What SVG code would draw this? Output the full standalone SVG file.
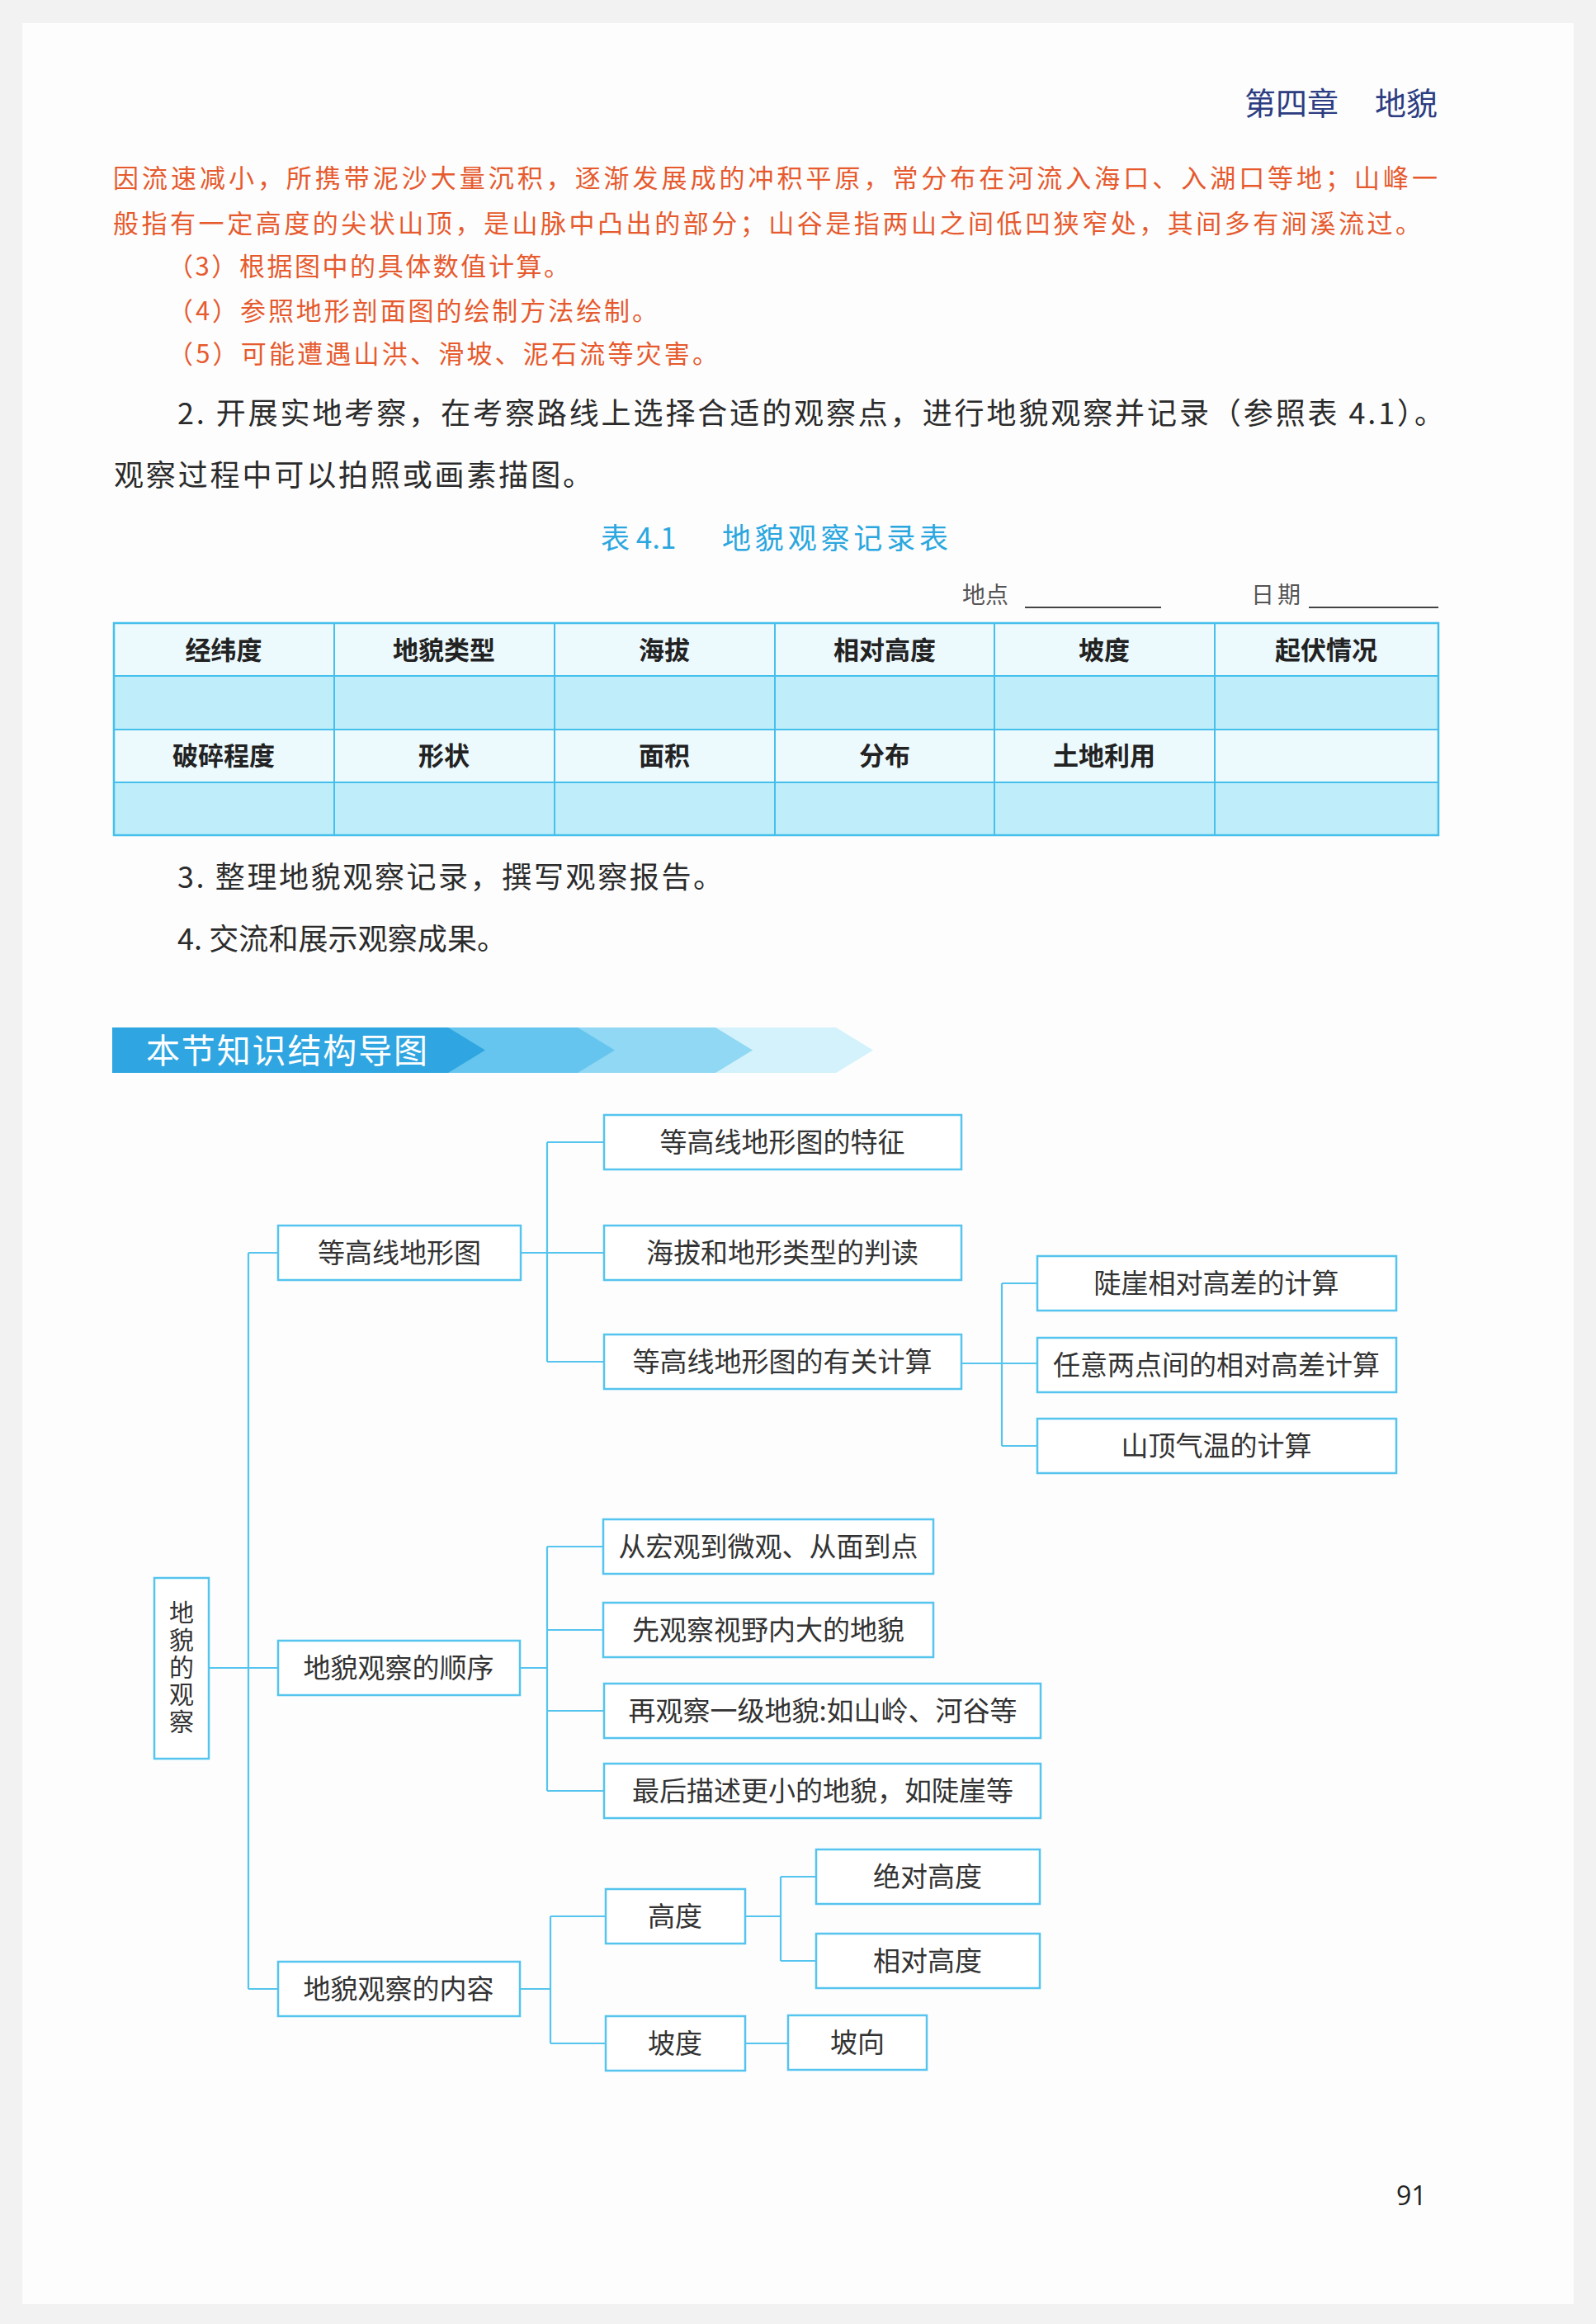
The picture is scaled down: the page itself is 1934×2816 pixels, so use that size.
<svg xmlns="http://www.w3.org/2000/svg" width="1934" height="2816" viewBox="0 0 1934 2816">
<style>
.cjk{font-family:"Noto Sans CJK SC","Noto Sans",sans-serif}
.orange{fill:#e65a2e;font-size:31px}
.body{fill:#2b2b2b;font-size:36px}
.th{fill:#222;font-size:31px;font-weight:bold;text-anchor:middle}
.box{fill:#ffffff;stroke:#55c4ee;stroke-width:2.5}
.bt{fill:#333;font-size:33px;text-anchor:middle}
.conn{stroke:#55c4ee;stroke-width:2.2;fill:none}
.tline{stroke:#45bfec;stroke-width:2}
</style>
<rect x="0" y="0" width="1934" height="2816" fill="#f2f2f2"/>
<rect x="27" y="28" width="1880" height="2764" fill="#fdfdfd"/>

<!-- header -->
<text class="cjk" x="1508" y="139" font-size="38" fill="#2c3d82">第四章</text>
<text class="cjk" x="1666" y="139" font-size="38" fill="#2c3d82">地貌</text>

<!-- orange paragraph -->
<g class="cjk orange">
<text x="137" y="227" textLength="1605" lengthAdjust="spacing">因流速减小，所携带泥沙大量沉积，逐渐发展成的冲积平原，常分布在河流入海口、入湖口等地；山峰一</text>
<text x="137" y="282" textLength="1585" lengthAdjust="spacing">般指有一定高度的尖状山顶，是山脉中凸出的部分；山谷是指两山之间低凹狭窄处，其间多有涧溪流过。</text>
<text x="203" y="334" textLength="487" lengthAdjust="spacing">（3）根据图中的具体数值计算。</text>
<text x="203" y="388" textLength="594" lengthAdjust="spacing">（4）参照地形剖面图的绘制方法绘制。</text>
<text x="203" y="440" textLength="667" lengthAdjust="spacing">（5）可能遭遇山洪、滑坡、泥石流等灾害。</text>
</g>

<!-- black paragraph -->
<g class="cjk body">
<text x="215" y="514" textLength="1535" lengthAdjust="spacing">2. 开展实地考察，在考察路线上选择合适的观察点，进行地貌观察并记录（参照表 4.1）。</text>
<text x="138" y="589" textLength="580" lengthAdjust="spacing">观察过程中可以拍照或画素描图。</text>
</g>

<!-- table title -->
<text class="cjk" x="728" y="665" font-size="35" fill="#2ba7df">表 4.1</text>
<text class="cjk" x="875" y="665" font-size="35" fill="#2ba7df" textLength="274" lengthAdjust="spacing">地貌观察记录表</text>

<text class="cjk" x="1166" y="731" font-size="28" fill="#555">地点</text>
<line x1="1242" y1="736" x2="1407" y2="736" stroke="#444" stroke-width="2"/>
<text class="cjk" x="1516" y="731" font-size="28" fill="#555" textLength="60" lengthAdjust="spacing">日期</text>
<line x1="1586" y1="736" x2="1743" y2="736" stroke="#444" stroke-width="2"/>

<!-- table -->
<g id="table">
<rect x="138" y="755" width="1605" height="64" fill="#ecf9fd"/>
<rect x="138" y="819" width="1605" height="65" fill="#bfeefa"/>
<rect x="138" y="884" width="1605" height="64" fill="#ecf9fd"/>
<rect x="138" y="948" width="1605" height="64" fill="#bfeefa"/>
<g class="tline">
<line x1="138" y1="819" x2="1743" y2="819"/>
<line x1="138" y1="884" x2="1743" y2="884"/>
<line x1="138" y1="948" x2="1743" y2="948"/>
<line x1="405" y1="755" x2="405" y2="1012"/>
<line x1="672" y1="755" x2="672" y2="1012"/>
<line x1="939" y1="755" x2="939" y2="1012"/>
<line x1="1205" y1="755" x2="1205" y2="1012"/>
<line x1="1472" y1="755" x2="1472" y2="1012"/>
</g>
<rect x="138" y="755" width="1605" height="257" fill="none" stroke="#45bfec" stroke-width="2.5"/>
<g class="cjk th">
<text x="271" y="799">经纬度</text>
<text x="538" y="799">地貌类型</text>
<text x="805" y="799">海拔</text>
<text x="1072" y="799">相对高度</text>
<text x="1338" y="799">坡度</text>
<text x="1607" y="799">起伏情况</text>
<text x="271" y="927">破碎程度</text>
<text x="538" y="927">形状</text>
<text x="805" y="927">面积</text>
<text x="1072" y="927">分布</text>
<text x="1338" y="927">土地利用</text>
</g>
</g>

<g class="cjk body">
<text x="215" y="1076" textLength="661" lengthAdjust="spacing">3. 整理地貌观察记录，撰写观察报告。</text>
<text x="215" y="1151" textLength="399" lengthAdjust="spacing">4. 交流和展示观察成果。</text>
</g>

<!-- banner -->
<g id="banner">
<polygon points="136,1245 1013,1245 1058,1272.5 1013,1300 136,1300" fill="#d3f2fb"/>
<polygon points="136,1245 867,1245 912,1272.5 867,1300 136,1300" fill="#90d8f3"/>
<polygon points="136,1245 700,1245 745,1272.5 700,1300 136,1300" fill="#66c5ee"/>
<polygon points="136,1245 543,1245 588,1272.5 543,1300 136,1300" fill="#2fa6e1"/>
<text class="cjk" x="177" y="1288" font-size="41" fill="#ffffff" textLength="341" lengthAdjust="spacing">本节知识结构导图</text>
</g>

<!-- connectors -->
<g id="connectors" class="conn">
<line x1="301" y1="1518" x2="301" y2="2410"/>
<line x1="301" y1="1518" x2="337" y2="1518"/>
<line x1="253" y1="2021" x2="337" y2="2021"/>
<line x1="301" y1="2410" x2="337" y2="2410"/>
<line x1="631" y1="1518" x2="732" y2="1518"/>
<line x1="663" y1="1384" x2="663" y2="1650"/>
<line x1="663" y1="1384" x2="732" y2="1384"/>
<line x1="663" y1="1650" x2="732" y2="1650"/>
<line x1="1165" y1="1652" x2="1257" y2="1652"/>
<line x1="1214" y1="1555" x2="1214" y2="1752"/>
<line x1="1214" y1="1555" x2="1257" y2="1555"/>
<line x1="1214" y1="1752" x2="1257" y2="1752"/>
<line x1="630" y1="2021" x2="663" y2="2021"/>
<line x1="663" y1="1874" x2="663" y2="2170"/>
<line x1="663" y1="1874" x2="731" y2="1874"/>
<line x1="663" y1="1975" x2="731" y2="1975"/>
<line x1="663" y1="2073" x2="732" y2="2073"/>
<line x1="663" y1="2170" x2="732" y2="2170"/>
<line x1="630" y1="2410" x2="667" y2="2410"/>
<line x1="667" y1="2322" x2="667" y2="2476"/>
<line x1="667" y1="2322" x2="734" y2="2322"/>
<line x1="667" y1="2476" x2="734" y2="2476"/>
<line x1="903" y1="2322" x2="946" y2="2322"/>
<line x1="946" y1="2274" x2="946" y2="2376"/>
<line x1="946" y1="2274" x2="989" y2="2274"/>
<line x1="946" y1="2376" x2="989" y2="2376"/>
<line x1="903" y1="2476" x2="955" y2="2476"/>
</g>

<!-- nodes -->
<g id="n-root"><rect class="box" x="187" y="1912" width="66" height="219"/>
<text class="cjk" x="220" y="2021" font-size="30" fill="#333" text-anchor="middle" writing-mode="vertical-rl" letter-spacing="3">地貌的观察</text></g>

<g id="n-a"><rect class="box" x="337" y="1485" width="294" height="66"/><text class="cjk bt" x="484" y="1530">等高线地形图</text></g>
<g id="n-a1"><rect class="box" x="732" y="1351" width="433" height="66"/><text class="cjk bt" x="948" y="1396">等高线地形图的特征</text></g>
<g id="n-a2"><rect class="box" x="732" y="1485" width="433" height="66"/><text class="cjk bt" x="948" y="1530">海拔和地形类型的判读</text></g>
<g id="n-a3"><rect class="box" x="732" y="1617" width="433" height="66"/><text class="cjk bt" x="948" y="1662">等高线地形图的有关计算</text></g>
<g id="n-a3a"><rect class="box" x="1257" y="1522" width="435" height="66"/><text class="cjk bt" x="1474" y="1567">陡崖相对高差的计算</text></g>
<g id="n-a3b"><rect class="box" x="1257" y="1621" width="435" height="66"/><text class="cjk bt" x="1474" y="1666">任意两点间的相对高差计算</text></g>
<g id="n-a3c"><rect class="box" x="1257" y="1719" width="435" height="66"/><text class="cjk bt" x="1474" y="1764">山顶气温的计算</text></g>

<g id="n-b"><rect class="box" x="337" y="1988" width="293" height="66"/><text class="cjk bt" x="483" y="2033">地貌观察的顺序</text></g>
<g id="n-b1"><rect class="box" x="731" y="1841" width="400" height="66"/><text class="cjk bt" x="931" y="1886">从宏观到微观、从面到点</text></g>
<g id="n-b2"><rect class="box" x="731" y="1942" width="400" height="66"/><text class="cjk bt" x="931" y="1987">先观察视野内大的地貌</text></g>
<g id="n-b3"><rect class="box" x="732" y="2040" width="529" height="66"/><text class="cjk bt" x="997" y="2085">再观察一级地貌:如山岭、河谷等</text></g>
<g id="n-b4"><rect class="box" x="732" y="2137" width="529" height="66"/><text class="cjk bt" x="997" y="2182">最后描述更小的地貌，如陡崖等</text></g>

<g id="n-c"><rect class="box" x="337" y="2377" width="293" height="66"/><text class="cjk bt" x="483" y="2422">地貌观察的内容</text></g>
<g id="n-c1"><rect class="box" x="734" y="2289" width="169" height="66"/><text class="cjk bt" x="818" y="2334">高度</text></g>
<g id="n-c2"><rect class="box" x="734" y="2443" width="169" height="66"/><text class="cjk bt" x="818" y="2488">坡度</text></g>
<g id="n-c1a"><rect class="box" x="989" y="2241" width="271" height="66"/><text class="cjk bt" x="1124" y="2286">绝对高度</text></g>
<g id="n-c1b"><rect class="box" x="989" y="2343" width="271" height="66"/><text class="cjk bt" x="1124" y="2388">相对高度</text></g>
<g id="n-c2a"><rect class="box" x="955" y="2442" width="168" height="66"/><text class="cjk bt" x="1039" y="2487">坡向</text></g>

<text x="1692" y="2672" font-family="'Open Sans','Noto Sans',sans-serif" font-size="32" fill="#222">91</text>
</svg>
